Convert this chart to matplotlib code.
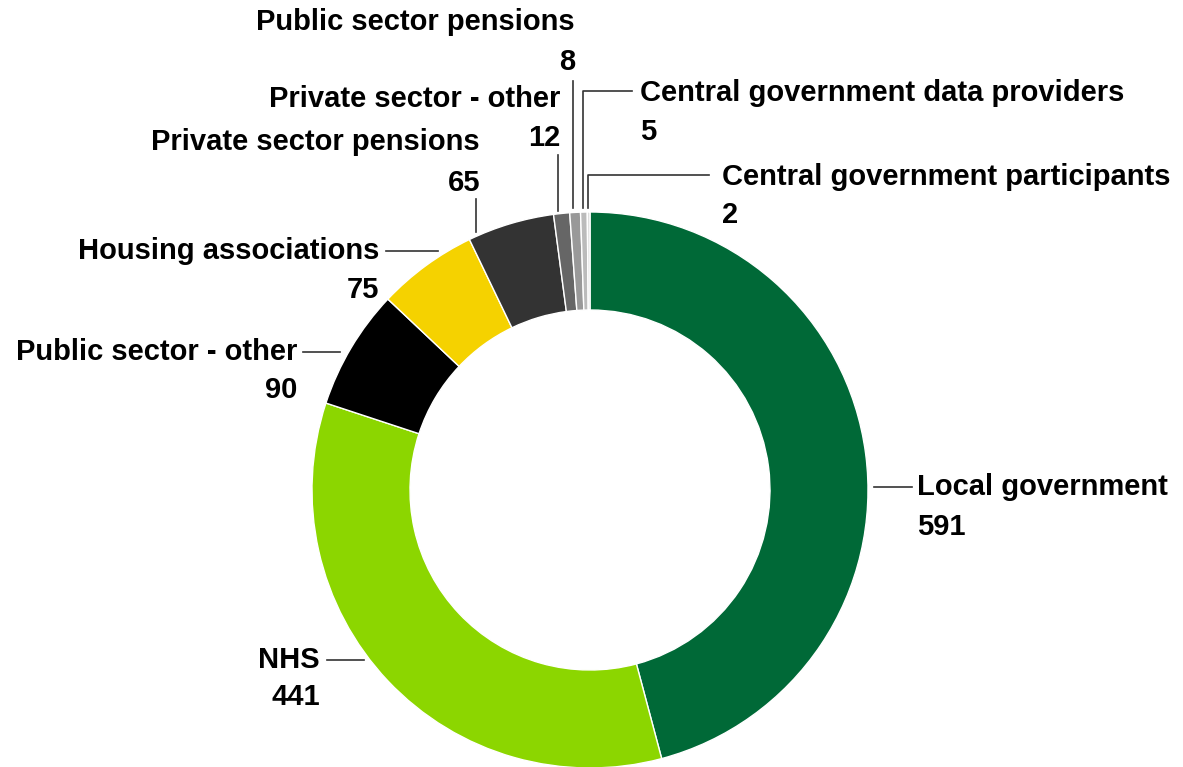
import matplotlib.pyplot as plt

plt.rcParams['font.family'] = ['Liberation Sans', 'DejaVu Sans']

categories = ["Local government", "NHS", "Public sector - other",
              "Housing associations", "Private sector pensions",
              "Private sector - other", "Public sector pensions",
              "Central government data providers",
              "Central government participants"]
values = [591, 441, 90, 75, 65, 12, 8, 5, 2]
colors = ["#006937", "#8cd600", "#000000", "#f5d200", "#333333",
          "#666666", "#999999", "#bbbbbb", "#dddddd"]

W, H = 1183, 767

# label layout in image pixels: (x, align, name y, value y, leader points)
layout = [
    (917, 'left', 487, 527, [(874, 487), (912, 487)]),
    (320, 'right', 660, 697, [(327, 660), (364, 660)]),
    (297, 'right', 352, 390, [(303, 352), (340, 352)]),
    (379, 'right', 251, 290, [(386, 251), (438, 251)]),
    (480, 'right', 142, 183, [(476, 199), (476, 232)]),
    (560, 'right', 99, 138, [(558, 155), (558, 211)]),
    (575, 'right', 22, 62, [(573, 81), (573, 208)]),
    (640, 'left', 93, 132, [(632, 91), (583, 91), (583, 208)]),
    (722, 'left', 177, 215, [(709, 175), (588, 175), (588, 208)]),
]

fig = plt.figure(figsize=(W / 100, H / 100), dpi=100)
ax = fig.add_axes([0, 0, 1, 1])

ax.pie(values, colors=colors, startangle=90, counterclock=False,
       center=(590, H - 490), radius=278, frame=True,
       wedgeprops=dict(width=98, edgecolor='white', linewidth=1))

for name, val, (x, ha, ny, vy, pts) in zip(categories, values, layout):
    ax.text(x, H - ny, name, ha=ha, va='center', fontsize=21,
            fontweight='bold', color='black')
    ax.text(x, H - vy, str(val), ha=ha, va='center', fontsize=21,
            fontweight='bold', color='black')
    xs = [p[0] for p in pts]
    ys = [H - p[1] for p in pts]
    ax.plot(xs, ys, color='#333333', linewidth=1.2)

ax.set_xlim(0, W)
ax.set_ylim(0, H)
ax.set_aspect('equal')
ax.axis('off')

fig.savefig('out.png', dpi=100)
